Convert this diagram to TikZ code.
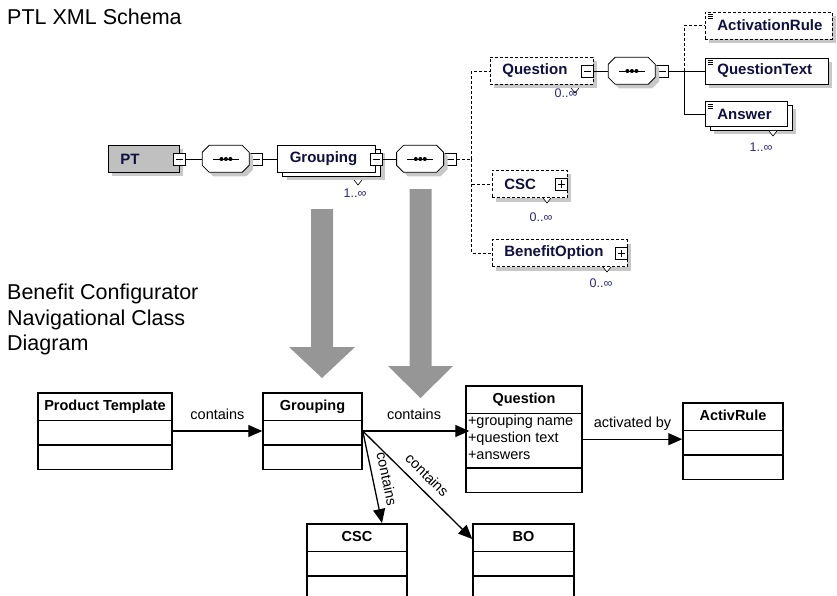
\documentclass[tikz,border=0pt]{standalone}
\usepackage{fontspec}
\setmainfont{Liberation Sans}
\usepackage{tikz}
\usetikzlibrary{arrows.meta,shapes,positioning,shadows}
\definecolor{xsnavy}{RGB}{16,16,64}
\definecolor{xsblue}{RGB}{40,40,120}
\definecolor{xsgray}{RGB}{192,192,192}
\definecolor{xsshadow}{RGB}{200,200,200}
\definecolor{bigarrowgray}{RGB}{150,150,150}
\tikzstyle{elem} = [rectangle, draw=black, fill=white, line width=0.8pt, anchor=west, align=left, inner xsep=12pt, inner ysep=0pt, minimum height=27pt, font=\fontsize{15}{18}\selectfont\bfseries, text=xsnavy]
\tikzstyle{optional} = [dash pattern=on 3pt off 2pt]
\tikzstyle{eshadow} = [drop shadow={shadow xshift=4pt, shadow yshift=-4pt, fill=xsshadow, opacity=1}]
\tikzstyle{stacked} = [drop shadow={shadow xshift=9pt, shadow yshift=-8pt, fill=xsshadow, opacity=1}, copy shadow={shadow xshift=5pt, shadow yshift=-4pt}]
\tikzstyle{minusbox} = [rectangle, draw=black, fill=white, line width=0.8pt, minimum size=12pt, inner sep=0pt, path picture={\draw[black] ([xshift=2.5pt]path picture bounding box.west) -- ([xshift=-2.5pt]path picture bounding box.east);}]
\tikzstyle{plusbox} = [rectangle, draw=black, fill=white, line width=0.8pt, minimum size=12pt, inner sep=0pt, path picture={\draw[black] ([xshift=2.5pt]path picture bounding box.west) -- ([xshift=-2.5pt]path picture bounding box.east); \draw[black] ([yshift=2.5pt]path picture bounding box.south) -- ([yshift=-2.5pt]path picture bounding box.north);}]
\tikzstyle{seq} = [rectangle, minimum width=47pt, minimum height=27pt, inner sep=0pt]
\tikzstyle{eline} = [line width=0.8pt]
\tikzstyle{optline} = [line width=0.8pt, dash pattern=on 3pt off 2pt]
\tikzstyle{mult} = [font=\fontsize{12.5}{14}\selectfont, text=xsblue, inner sep=0pt]
\tikzstyle{classbox} = [rectangle split, rectangle split parts=3, draw=black, line width=1.5pt, fill=white, anchor=north, inner xsep=2pt, inner ysep=0pt, rectangle split part align={center,left,center}, font=\fontsize{14.5}{17}\selectfont]
\tikzstyle{arrow} = [line width=1.3pt, -{Triangle[length=14pt, width=12pt]}]
\tikzstyle{rel} = [font=\fontsize{14.5}{17}\selectfont, inner sep=2pt]
\newcommand{\classtitle}[1]{\rule[-9pt]{0pt}{26pt}\textbf{#1}}
\newcommand{\emptypart}{\rule{0pt}{23pt}}

\begin{document}
\begin{tikzpicture}[x=1pt, y=-1pt]
    \useasboundingbox (0,0) rectangle (837,596);

    % Titles
    \node[anchor=base west, inner sep=0pt, font=\fontsize{21.5}{25.5}\selectfont] (xmltitle) at (7,25) {PTL XML Schema};
    \node[anchor=north west, align=left, inner sep=0pt, font=\fontsize{21.5}{25.5}\selectfont] (umltitle) at (7,284) {Benefit Configurator\\Navigational Class\\Diagram};

    % Schema tree
    \node[elem, text width=47pt, fill=xsgray, eshadow] (pt) at (108,159) {PT};
    \node[minusbox] (m1) at (pt.east) {};
    \node[seq, right=16pt of m1] (seq1) {};
    \node[minusbox, right=0pt of seq1] (m2) {};
    \node[elem, text width=74pt, stacked, right=15pt of m2] (grouping) {Grouping};
    \node[minusbox] (m3) at (grouping.east) {};
    \node[seq, right=14pt of m3] (seq2) {};
    \node[minusbox, right=0pt of seq2] (m4) {};

    \node[elem, optional, eshadow, text width=79pt] (question) at (490,71) {Question};
    \node[minusbox] (m5) at ([xshift=-6pt]question.east) {};
    \node[seq, right=14pt of m5] (seq3) {};
    \node[minusbox, right=0pt of seq3] (m6) {};
    \node[elem, text width=51pt, optional, eshadow] (csc) at (492,184) {CSC};
    \node[plusbox] (p1) at ([xshift=-6pt]csc.east) {};
    \node[elem, text width=111pt, optional, eshadow] (bopt) at (492,253) {BenefitOption};
    \node[plusbox] (p2) at ([xshift=-6pt]bopt.east) {};

    \node[elem, text width=103pt, optional, eshadow] (actrule) at (705,25.5) {ActivationRule};
    \node[elem, text width=99pt, minimum height=26pt, eshadow] (qtext) at (705,71) {QuestionText};
    \node[elem, text width=58pt, minimum height=25pt, stacked] (answer) at (705,114) {Answer};

    % Sequence octagons
    \foreach \s in {seq1,seq2,seq3} {
        \fill[xsshadow] ([shift={(4,4)}]\s.north west) ++(7,0) -- ++(33,0) -- ++(7,7) -- ++(0,13) -- ++(-7,7) -- ++(-33,0) -- ++(-7,-7) -- ++(0,-13) -- cycle;
        \draw[eline, fill=white] (\s.north west) ++(7,0) -- ++(33,0) -- ++(7,7) -- ++(0,13) -- ++(-7,7) -- ++(-33,0) -- ++(-7,-7) -- ++(0,-13) -- cycle;
        \draw[eline] ([xshift=-13pt]\s.center) -- ([xshift=13pt]\s.center);
        \foreach \d in {-4.5,0,4.5}
            \fill ([xshift=\d pt]\s.center) circle (2pt);
    }

    % Element icons
    \foreach \e in {actrule,qtext,answer}
        \foreach \k in {0,2,4}
            \draw[line width=0.5pt] ([xshift=3pt,yshift=-3pt]\e.north west) ++(0,\k) -- ++(5,0);

    % Occurrence marks
    \foreach \x/\y in {358/180, 575/88, 773/131, 547/198, 607/267}
        \draw[fill=white, line width=0.6pt] (\x-4,\y) -- (\x,\y+5) -- (\x+4,\y);
    \node[mult] (mgrp) at (355,193) {1..∞};
    \node[mult] (mq) at (566,93) {0..∞};
    \node[mult] (mans) at (761,147) {1..∞};
    \node[mult] (mcsc) at (541,217) {0..∞};
    \node[mult] (mbo) at (601,283) {0..∞};

    % Schema connectors
    \draw[eline] (m1) -- (seq1);
    \draw[eline] (m2) -- (grouping);
    \draw[eline] (m3) -- (seq2);
    \draw[optline] (m4.east) -- ++(15,0) coordinate (fork1);
    \draw[optline] (fork1) |- (question);
    \draw[optline] (fork1) |- (csc);
    \draw[optline] (fork1) |- (bopt);
    \draw[eline] (m5) -- (seq3);
    \draw[eline] (m6.east) -- ++(16,0) coordinate (fork2);
    \draw[eline] (fork2) -- (qtext);
    \draw[eline] (fork2) |- (answer);
    \draw[optline] (fork2) |- (actrule);

    % Mapping arrows
    \foreach \x/\ya/\yh/\yt/\hw in {322/209/347/378/33, 420.5/189/366/398/32.5}
        \fill[bigarrowgray] (\x-11,\ya) -- (\x+11,\ya) -- (\x+11,\yh) -- (\x+\hw,\yh) -- (\x,\yt) -- (\x-\hw,\yh) -- (\x-11,\yh) -- cycle;

    % Class diagram
    \node[classbox, minimum width=134pt] (ptemp) at (105,392) {\classtitle{Product Template}\nodepart{two}\emptypart\nodepart{three}\emptypart};
    \node[classbox, minimum width=99pt] (grp) at (312.5,392) {\classtitle{Grouping}\nodepart{two}\emptypart\nodepart{three}\emptypart};
    \node[classbox, minimum width=116pt] (qcls) at (524,385) {\classtitle{Question}\nodepart{two}\rule[-7.5pt]{0pt}{48.5pt}\begin{tabular}[b]{@{}l@{}}+grouping name\\+question text\\+answers\end{tabular}\nodepart{three}\emptypart};
    \node[classbox, minimum width=100pt] (arule) at (733,402) {\classtitle{ActivRule}\nodepart{two}\emptypart\nodepart{three}\emptypart};
    \node[classbox, minimum width=100pt] (csccls) at (357,523) {\classtitle{CSC}\nodepart{two}\emptypart\nodepart{three}\emptypart};
    \node[classbox, minimum width=101pt] (bo) at (523.5,523) {\classtitle{BO}\nodepart{two}\emptypart\nodepart{three}\emptypart};

    % Associations
    \draw[arrow] (ptemp) -- (grp) node[rel, midway, above=9pt] {contains};
    \draw[arrow, shorten >=-4pt] (grp.east) -- (grp.east -| qcls.west) node[rel, midway, above=9pt] {contains};
    \draw[arrow] (qcls.east) -- (qcls.east -| arule.west) node[rel, midway, above=6pt] {activated by};
    \draw[arrow] (grp.east) -- ([xshift=25pt]csccls.north) node[rel, pos=0.55, sloped, above=6pt] {contains};
    \draw[arrow] (grp.east) -- ([yshift=-16pt]bo.north west) node[rel, midway, sloped, above=6pt] {contains};
\end{tikzpicture}
\end{document}
